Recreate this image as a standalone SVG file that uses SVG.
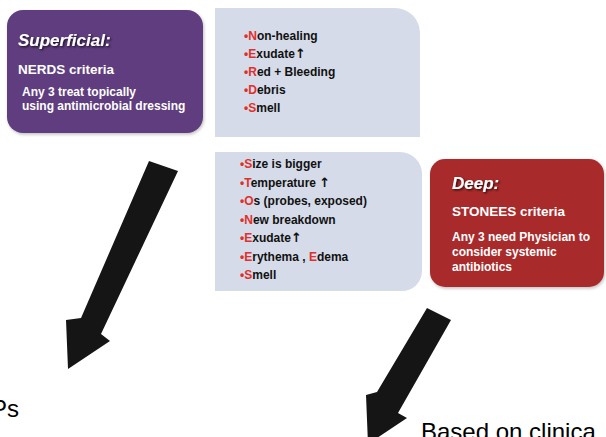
<svg xmlns="http://www.w3.org/2000/svg" width="606" height="437" viewBox="0 0 606 437">
<defs>
<filter id="ts" x="-10%" y="-30%" width="130%" height="170%"><feDropShadow dx="1.2" dy="1.2" stdDeviation="0.8" flood-color="#000" flood-opacity="0.8"/></filter>
<filter id="bs" x="-5%" y="-5%" width="115%" height="115%"><feDropShadow dx="1" dy="1.5" stdDeviation="1.5" flood-color="#000" flood-opacity="0.25"/></filter>
</defs>
<style>
text{font-family:"Liberation Sans",Arial,sans-serif;font-weight:bold}
.w{fill:#fff}
.k{fill:#111;font-size:12px}
.r{fill:#e0302c}
.up{font-family:"DejaVu Sans",sans-serif;font-size:13px}
.big{font-size:17px;font-style:italic}
.mid{font-size:13.5px}
.sm{font-size:12px}
.lbl{font-weight:normal;fill:#000;font-size:24px}
.arr{fill:#151515}
</style>
<rect width="606" height="437" fill="#fff"/>
<g id="superficial">
<rect x="7" y="10" width="196" height="123" rx="16" fill="#5f3e7e" filter="url(#bs)"/>
<text class="w big" x="18" y="46" filter="url(#ts)">Superficial:</text>
<text class="w mid" x="18" y="74">NERDS criteria</text>
<text class="w sm" x="22" y="96">Any 3 treat topically</text>
<text class="w sm" x="22" y="110">using antimicrobial dressing</text>
</g>
<g id="nerds">
<path d="M215,8 H395 A25,25 0 0 1 420,33 V137 H215 Z" fill="#d5dbe8"/>
<text class="k" x="244" y="40"><tspan class="r">•N</tspan>on-healing</text>
<text class="k" x="244" y="58"><tspan class="r">•E</tspan>xudate<tspan class="up">↑</tspan></text>
<text class="k" x="244" y="76"><tspan class="r">•R</tspan>ed + Bleeding</text>
<text class="k" x="244" y="94"><tspan class="r">•D</tspan>ebris</text>
<text class="k" x="244" y="112"><tspan class="r">•S</tspan>mell</text>
</g>
<g id="stonees">
<path d="M215,152 H400 A22,22 0 0 1 422,174 V271 A20,20 0 0 1 402,291 H215 Z" fill="#d5dbe8"/>
<text class="k" x="240" y="168"><tspan class="r">•S</tspan>ize is bigger</text>
<text class="k" x="240" y="187"><tspan class="r">•T</tspan>emperature <tspan class="up">↑</tspan></text>
<text class="k" x="240" y="205"><tspan class="r">•O</tspan>s (probes, exposed)</text>
<text class="k" x="240" y="224"><tspan class="r">•N</tspan>ew breakdown</text>
<text class="k" x="240" y="242"><tspan class="r">•E</tspan>xudate<tspan class="up">↑</tspan></text>
<text class="k" x="240" y="261"><tspan class="r">•E</tspan>rythema , <tspan class="r">E</tspan>dema</text>
<text class="k" x="240" y="279"><tspan class="r">•S</tspan>mell</text>
</g>
<g id="deep">
<rect x="430" y="159" width="174" height="128" rx="15" fill="#a92a2a" filter="url(#bs)"/>
<text class="w big" x="452" y="189" filter="url(#ts)">Deep:</text>
<text class="w mid" x="452" y="216">STONEES criteria</text>
<text class="w sm" x="452" y="241">Any 3 need Physician to</text>
<text class="w sm" x="452" y="256">consider systemic</text>
<text class="w sm" x="452" y="271">antibiotics</text>
</g>
<g id="connectors">
<polygon class="arr" points="149,161 178,171 101,334 110,341 68,369 66,320 81,318"/>
<polygon class="arr" points="427,308 451,320 398,413 407,418 368,444 366,395 377,392"/>
</g>
<g id="labels">
<text class="lbl" x="-9" y="417">Ps</text>
<text class="lbl" x="421" y="440">Based on clinica</text>
</g>
</svg>
